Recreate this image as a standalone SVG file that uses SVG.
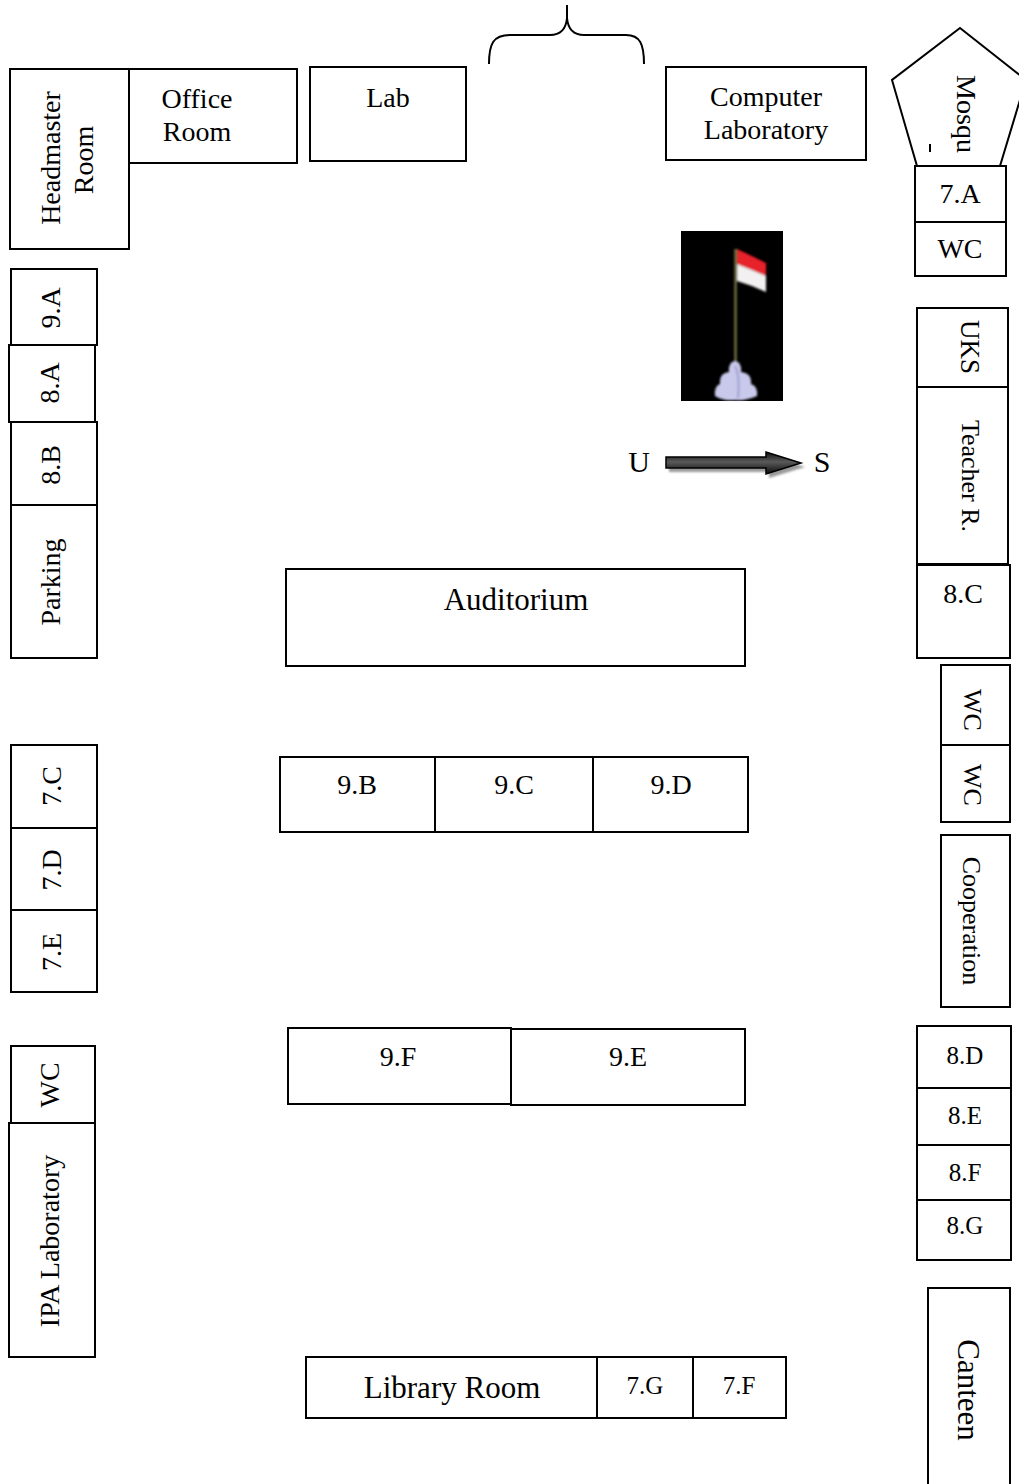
<svg xmlns="http://www.w3.org/2000/svg" width="1019" height="1484" viewBox="0 0 1019 1484">
  <defs>
    <style>
      .room { fill: #fff; stroke: #000; stroke-width: 2; }
      .lbl { font-family: "Liberation Serif", "Times New Roman", serif; fill: #000; text-anchor: middle; }
      .f28 { font-size: 28px; }
      .f27 { font-size: 27px; }
      .f26 { font-size: 26px; }
      .f25 { font-size: 25px; }
      .f31 { font-size: 31px; }
      .f30 { font-size: 30px; }
      .line { fill: none; stroke: #000; stroke-width: 2; }
    </style>
    <linearGradient id="arrowFill" x1="0" y1="0" x2="0" y2="1">
      <stop offset="0" stop-color="#111"/>
      <stop offset="0.45" stop-color="#5a5a5a"/>
      <stop offset="1" stop-color="#0a0a0a"/>
    </linearGradient>
    <filter id="soft" x="-20%" y="-20%" width="140%" height="140%">
      <feGaussianBlur stdDeviation="0.8"/>
    </filter>
  </defs>

  <rect width="1019" height="1484" fill="#fff"/>

  <!-- Top row -->
  <g id="headmaster-room">
    <rect class="room" x="10" y="69" width="119" height="180"/>
    <text class="lbl f28" transform="translate(49,158) rotate(-90)" y="11">Headmaster</text>
    <text class="lbl f28" transform="translate(82,160) rotate(-90)" y="11">Room</text>
  </g>
  <g id="office-room">
    <rect class="room" x="129" y="69" width="168" height="94"/>
    <text class="lbl f28" x="197" y="108">Office</text>
    <text class="lbl f28" x="197" y="141">Room</text>
  </g>
  <g id="lab">
    <rect class="room" x="310" y="67" width="156" height="94"/>
    <text class="lbl f28" x="388" y="107">Lab</text>
  </g>
  <g id="gate">
    <path class="line" d="M489,64 C489,44 493,35 510,35 L550,35 C561,35 566,29 567,18 L567,5 M567,18 C568,29 573,35 584,35 L626,35 C640,35 644,44 644,64"/>
  </g>
  <g id="computer-laboratory">
    <rect class="room" x="666" y="67" width="200" height="93"/>
    <text class="lbl f28" x="766" y="106">Computer</text>
    <text class="lbl f28" x="766" y="139">Laboratory</text>
  </g>
  <g id="mosque">
    <polygon class="room" points="960,28 1026,80 1000,166 917,166 892,80"/>
    <text class="lbl f28" transform="translate(966,114) rotate(90)" y="9">Mosqu</text>
    <path class="line" d="M930,144 V152" stroke-width="1.5"/>
  </g>

  <!-- Right column -->
  <g id="class-7a">
    <rect class="room" x="915" y="166" width="91" height="56"/>
    <text class="lbl f28" x="960" y="203">7.A</text>
  </g>
  <g id="wc-top-right">
    <rect class="room" x="915" y="222" width="91" height="54"/>
    <text class="lbl f28" x="960" y="258">WC</text>
  </g>
  <g id="uks">
    <rect class="room" x="917" y="308" width="91" height="79"/>
    <text class="lbl f27" transform="translate(970,347) rotate(90)" y="9">UKS</text>
  </g>
  <g id="teacher-room">
    <rect class="room" x="917" y="387" width="91" height="177"/>
    <text class="lbl f26" transform="translate(970,476) rotate(90)" y="8.5">Teacher R.</text>
  </g>
  <g id="class-8c">
    <rect class="room" x="917" y="565" width="93" height="93"/>
    <text class="lbl f28" x="963" y="603">8.C</text>
  </g>
  <g id="wc-right-1">
    <rect class="room" x="941" y="665" width="69" height="80"/>
    <text class="lbl f26" transform="translate(972,710) rotate(90)" y="8.5">WC</text>
  </g>
  <g id="wc-right-2">
    <rect class="room" x="941" y="745" width="69" height="77"/>
    <text class="lbl f26" transform="translate(972,785) rotate(90)" y="8.5">WC</text>
  </g>
  <g id="cooperation">
    <rect class="room" x="941" y="835" width="69" height="172"/>
    <text class="lbl f26" transform="translate(971,921) rotate(90)" y="8.5">Cooperation</text>
  </g>
  <g id="class-8d">
    <rect class="room" x="917" y="1026" width="94" height="62"/>
    <text class="lbl f25" x="965" y="1064">8.D</text>
  </g>
  <g id="class-8e">
    <rect class="room" x="917" y="1088" width="94" height="57"/>
    <text class="lbl f25" x="965" y="1124">8.E</text>
  </g>
  <g id="class-8f">
    <rect class="room" x="917" y="1145" width="94" height="55"/>
    <text class="lbl f25" x="965" y="1181">8.F</text>
  </g>
  <g id="class-8g">
    <rect class="room" x="917" y="1200" width="94" height="60"/>
    <text class="lbl f25" x="965" y="1234">8.G</text>
  </g>
  <g id="canteen">
    <rect class="room" x="928" y="1288" width="82" height="210"/>
    <text class="lbl f31" transform="translate(968,1390) rotate(90)" y="10">Canteen</text>
  </g>

  <!-- Left column -->
  <g id="class-9a">
    <rect class="room" x="11" y="269" width="86" height="76"/>
    <text class="lbl f28" transform="translate(51,308) rotate(-90)" y="9">9.A</text>
  </g>
  <g id="class-8a">
    <rect class="room" x="9" y="345" width="86" height="77"/>
    <text class="lbl f28" transform="translate(50,383) rotate(-90)" y="9">8.A</text>
  </g>
  <g id="class-8b">
    <rect class="room" x="11" y="422" width="86" height="83"/>
    <text class="lbl f28" transform="translate(51,465) rotate(-90)" y="9">8.B</text>
  </g>
  <g id="parking">
    <rect class="room" x="11" y="505" width="86" height="153"/>
    <text class="lbl f28" transform="translate(51,582) rotate(-90)" y="9">Parking</text>
  </g>
  <g id="class-7c">
    <rect class="room" x="11" y="745" width="86" height="83"/>
    <text class="lbl f28" transform="translate(52,786) rotate(-90)" y="9">7.C</text>
  </g>
  <g id="class-7d">
    <rect class="room" x="11" y="828" width="86" height="82"/>
    <text class="lbl f28" transform="translate(52,870) rotate(-90)" y="9">7.D</text>
  </g>
  <g id="class-7e">
    <rect class="room" x="11" y="910" width="86" height="82"/>
    <text class="lbl f28" transform="translate(52,952) rotate(-90)" y="9">7.E</text>
  </g>
  <g id="wc-left">
    <rect class="room" x="11" y="1046" width="84" height="77"/>
    <text class="lbl f28" transform="translate(50,1085) rotate(-90)" y="9">WC</text>
  </g>
  <g id="ipa-laboratory">
    <rect class="room" x="9" y="1123" width="86" height="234"/>
    <text class="lbl f28" transform="translate(50,1241) rotate(-90)" y="9">IPA Laboratory</text>
  </g>

  <!-- Flag pole -->
  <g id="flagpole">
    <rect x="681" y="231" width="102" height="170" fill="#000"/>
    <g filter="url(#soft)">
      <line x1="735.5" y1="249" x2="735.5" y2="364" stroke="#8c8a4e" stroke-width="2"/>
      <polygon points="737,249 752,256 766,263 766,276 752,270 737,264" fill="#e8202a"/>
      <polygon points="737,264 752,270 766,276 766,292 752,286 737,281" fill="#f2f0f0"/>
      <path d="M729,372 Q728,362 735,361 Q742,362 741,372 Q752,373 751,384 Q758,386 757,396 Q746,401 735,400 Q722,401 715,396 Q714,386 720,384 Q719,373 729,372 Z" fill="#c9c9ec"/>
      <path d="M735,366 Q740,374 738,398" stroke="#9e9ecf" stroke-width="2" fill="none"/>
    </g>
  </g>

  <!-- Compass arrow -->
  <g id="compass">
    <text class="lbl f30" x="639" y="472">U</text>
    <polygon points="669,461 769,461 769,456 805,467 769,478 769,472 669,472" fill="#9a9a9a" filter="url(#soft)"/>
    <polygon points="666,457 766,457 766,452 801,463 766,474 766,468 666,468" fill="url(#arrowFill)" stroke="#000" stroke-width="1.5"/>
    <text class="lbl f30" x="822" y="472">S</text>
  </g>

  <!-- Central buildings -->
  <g id="auditorium">
    <rect class="room" x="286" y="569" width="459" height="97"/>
    <text class="lbl f31" x="516" y="610">Auditorium</text>
  </g>
  <g id="class-9b">
    <rect class="room" x="280" y="757" width="155" height="75"/>
    <text class="lbl f28" x="357" y="794">9.B</text>
  </g>
  <g id="class-9c">
    <rect class="room" x="435" y="757" width="158" height="75"/>
    <text class="lbl f28" x="514" y="794">9.C</text>
  </g>
  <g id="class-9d">
    <rect class="room" x="593" y="757" width="155" height="75"/>
    <text class="lbl f28" x="671" y="794">9.D</text>
  </g>
  <g id="class-9f">
    <rect class="room" x="288" y="1028" width="223" height="76"/>
    <text class="lbl f28" x="398" y="1066">9.F</text>
  </g>
  <g id="class-9e">
    <rect class="room" x="511" y="1029" width="234" height="76"/>
    <text class="lbl f28" x="628" y="1066">9.E</text>
  </g>
  <g id="library-room">
    <rect class="room" x="306" y="1357" width="291" height="61"/>
    <text class="lbl f31" x="452" y="1398">Library Room</text>
  </g>
  <g id="class-7g">
    <rect class="room" x="597" y="1357" width="96" height="61"/>
    <text class="lbl f25" x="645" y="1394">7.G</text>
  </g>
  <g id="class-7f">
    <rect class="room" x="693" y="1357" width="93" height="61"/>
    <text class="lbl f25" x="739" y="1394">7.F</text>
  </g>

  <!-- No connectors between rooms -->
  <g id="connectors"/>
</svg>
